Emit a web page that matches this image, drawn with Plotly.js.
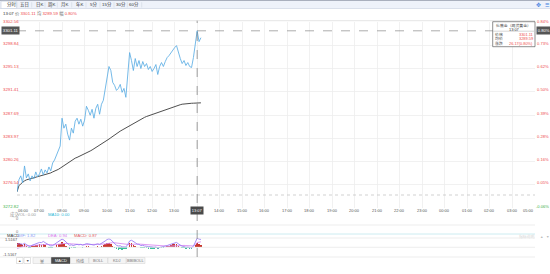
<!DOCTYPE html>
<html><head><meta charset="utf-8">
<script src="https://cdn.plot.ly/plotly-3.0.1.min.js"></script>
<style>html,body{margin:0;padding:0;background:#fff;}#chart{width:550px;height:274px;}</style>
</head><body><div id="chart"></div>
<script>
// ---------------- data ----------------
const tabNames = ["分时","五日","日K","周K","月K","年K","5分","15分","30分","60分"];
const timeLabels = ["06:00","07:00","08:00","09:00","10:00","11:00","12:00","13:00","","14:00","15:00","16:00","17:00","18:00","19:00","20:00","21:00","22:00","23:00","00:00","01:00","02:00","03:00","05:00"];
const pointsPerSlot = 12;
const priceGrid = [3298.84, 3295.13, 3291.41, 3287.69, 3283.97, 3280.26, 3276.54];
const pctGrid = ["0.73%","0.62%","0.50%","0.39%","0.28%","0.16%","0.05%"];
const priceMax = 3302.56, priceMin = 3272.82, prevClose = 3274.94;
const pctMax = "0.84%", pctMin = "-0.06%";
const macdTicks = [1.5167, -1.5167];
const indicatorButtons = ["量","MACD","均线","BOLL","KDJ","BBIBOLL"];
const instrument = "伦敦金（现货黄金）";
const hoverIdx = 96, hoverTime = "13:07";

const price = [3275.45,3277.35,3277.99,3276.88,3279.57,3277.67,3278.30,3277.19,3277.99,3277.51,
3278.62,3277.83,3278.30,3279.09,3278.14,3278.94,3278.46,3279.41,3278.78,3280.05,
3280.52,3281.31,3282.11,3282.74,3287.18,3285.59,3286.23,3284.64,3283.69,3285.59,
3284.80,3286.70,3287.18,3286.23,3287.02,3285.91,3286.86,3289.08,3288.44,3287.65,
3288.60,3287.18,3288.76,3289.40,3287.81,3289.40,3290.03,3291.93,3293.99,3295.42,
3294.78,3292.88,3292.41,3291.61,3291.93,3292.57,3291.30,3291.93,3290.51,3294.47,
3297.64,3296.37,3294.78,3296.69,3295.42,3296.37,3295.10,3296.21,3295.42,3295.89,
3294.94,3295.42,3294.63,3295.10,3295.73,3294.15,3295.42,3296.05,3295.42,3296.21,
3296.84,3297.16,3297.64,3298.11,3298.43,3298.75,3297.48,3296.69,3295.89,3296.37,
3295.58,3296.05,3295.42,3295.26,3296.84,3299.22,3301.11,3299.38,3300.01];

const avgPrice = [3275.45,3276.40,3276.72,3277.03,3277.19,3277.35,3277.43,3277.51,3277.67,3277.75,
3277.83,3277.91,3277.99,3278.03,3278.10,3278.14,3278.25,3278.37,3278.46,3278.62,
3278.73,3278.87,3279.02,3279.21,3279.41,3279.73,3279.89,3280.08,3280.27,3280.46,
3280.65,3280.81,3280.93,3281.06,3281.19,3281.31,3281.44,3281.60,3281.77,3281.95,
3282.12,3282.30,3282.47,3282.64,3282.83,3283.02,3283.22,3283.41,3283.63,3283.85,
3284.07,3284.31,3284.53,3284.74,3284.93,3285.12,3285.29,3285.47,3285.62,3285.78,
3286.00,3286.19,3286.37,3286.54,3286.72,3286.89,3287.05,3287.19,3287.32,3287.45,
3287.56,3287.67,3287.78,3287.89,3288.00,3288.11,3288.22,3288.33,3288.44,3288.56,
3288.67,3288.76,3288.87,3288.97,3289.06,3289.16,3289.25,3289.33,3289.41,3289.46,
3289.50,3289.53,3289.55,3289.56,3289.57,3289.58,3289.59,3289.61,3289.63];

const dif = [0.50,0.70,0.65,0.55,0.75,0.50,0.15,0.00,0.35,0.50,
0.65,0.80,0.95,0.90,1.15,0.90,0.65,0.35,0.22,0.30,
0.55,0.80,1.05,1.25,1.65,1.45,1.05,0.65,0.35,0.45,
0.30,0.45,0.55,0.45,0.55,0.38,0.50,0.70,0.65,0.55,
0.60,0.40,0.55,0.65,0.52,0.72,0.95,1.25,1.55,1.70,
1.50,1.10,0.70,0.35,0.20,0.25,0.05,0.05,0.00,0.50,
1.25,1.40,1.05,0.90,0.60,0.55,0.30,0.35,0.20,0.22,
0.10,0.08,-0.05,-0.05,0.00,-0.20,-0.10,0.00,-0.05,0.10,
0.30,0.45,0.60,0.75,0.85,0.95,0.65,0.40,0.15,0.10,
-0.05,-0.02,-0.10,-0.15,0.15,1.00,1.82,1.65,1.56];

const dea = [-0.30,-0.15,0.00,0.10,0.18,0.24,0.26,0.24,0.22,0.23,
0.26,0.30,0.36,0.42,0.48,0.53,0.55,0.53,0.50,0.47,
0.46,0.48,0.52,0.58,0.66,0.73,0.76,0.75,0.70,0.65,
0.60,0.56,0.54,0.52,0.51,0.49,0.48,0.49,0.50,0.50,
0.50,0.49,0.49,0.50,0.50,0.52,0.56,0.62,0.70,0.80,
0.87,0.90,0.88,0.82,0.75,0.68,0.60,0.53,0.47,0.45,
0.49,0.55,0.59,0.62,0.62,0.61,0.58,0.55,0.51,0.48,
0.44,0.40,0.35,0.31,0.27,0.22,0.19,0.16,0.14,0.13,
0.14,0.16,0.19,0.23,0.27,0.32,0.35,0.36,0.35,0.33,
0.30,0.27,0.24,0.21,0.21,0.50,0.94,1.00,1.08];

const macd = [0.80,0.85,0.65,0.45,0.57,0.26,-0.11,-0.24,0.13,0.27,
0.39,0.50,0.59,0.48,0.67,0.37,0.10,-0.18,-0.28,-0.17,
0.09,0.32,0.53,0.67,0.99,0.72,0.29,-0.10,-0.35,-0.20,
-0.30,-0.11,0.01,-0.07,0.04,-0.11,0.02,0.21,0.15,0.05,
0.10,-0.09,0.06,0.15,0.02,0.20,0.39,0.63,0.85,0.90,
0.63,0.20,-0.18,-0.47,-0.55,-0.43,-0.55,-0.48,-0.47,0.05,
0.76,0.85,0.46,0.28,-0.02,-0.06,-0.28,-0.20,-0.31,-0.26,
-0.34,-0.32,-0.40,-0.36,-0.27,-0.42,-0.29,-0.16,-0.19,-0.03,
0.16,0.29,0.41,0.52,0.58,0.63,0.30,0.04,-0.20,-0.23,
-0.35,-0.29,-0.34,-0.36,-0.06,0.50,0.87,0.65,0.48];

// ---------------- layout helpers ----------------
const W = 550, H = 274, X0 = 17, X1 = 535;
const px = v => v / W, py = v => 1 - v / H;
const FONT = "Liberation Sans, Noto Sans CJK SC, sans-serif";
const RED = "#ee4b4b", GREEN = "#3db24a";
const idx = price.map((_, i) => i);
const xMax = (timeLabels.length - 1) * pointsPerSlot;
const f = (size, color) => ({size: size, color: color, family: FONT});
function txt(x, y, text, o) {
  return Object.assign({xref: 'paper', yref: 'paper', x: px(x), y: py(y), text: text, showarrow: false,
    xanchor: 'left', yanchor: 'middle', font: f(4.3, '#555'), borderpad: 0}, o || {});
}
function hline(y, x0, x1, color, o) {
  return Object.assign({type: 'line', xref: 'paper', yref: 'paper', x0: px(x0), x1: px(x1), y0: py(y), y1: py(y),
    line: {color: color, width: 0.8}}, o || {});
}
function rect(x0, y0, x1, y1, fill, lc) {
  return {type: 'rect', xref: 'paper', yref: 'paper', x0: px(x0), x1: px(x1), y0: py(y1), y1: py(y0),
    fillcolor: fill, line: {color: lc || 'rgba(0,0,0,0)', width: lc ? 0.6 : 0}, layer: 'above'};
}

const hp = price[hoverIdx], ha = avgPrice[hoverIdx];
const chg = hp - prevClose, chgPct = (chg / prevClose * 100).toFixed(2) + "%";

// ---------------- traces ----------------
const traces = [
  {x: idx, y: avgPrice, type: 'scatter', mode: 'lines', line: {color: '#3a3a3a', width: 0.9}, hoverinfo: 'skip', xaxis: 'x', yaxis: 'y'},
  {x: idx, y: price, type: 'scatter', mode: 'lines', line: {color: '#5cade4', width: 0.85}, hoverinfo: 'skip', xaxis: 'x', yaxis: 'y'},
  {x: idx, y: macd, type: 'bar', width: 0.8, marker: {color: macd.map(v => v >= 0 ? '#c8382e' : '#3cbf9c'), line: {width: 0}}, hoverinfo: 'skip', xaxis: 'x3', yaxis: 'y3'},
  {x: idx, y: dea, type: 'scatter', mode: 'lines', line: {color: '#d98cf0', width: 0.9}, hoverinfo: 'skip', xaxis: 'x3', yaxis: 'y3'},
  {x: idx, y: dif, type: 'scatter', mode: 'lines', line: {color: '#9a7df5', width: 0.9}, hoverinfo: 'skip', xaxis: 'x3', yaxis: 'y3'}
];

// ---------------- shapes ----------------
const shapes = [];
shapes.push(rect(0, 0, 550, 8.5, '#eef2fa'));
shapes.push(hline(0.5, 0, 550, '#a9afbd', {line: {color: '#a9afbd', width: 1}}));
shapes.push(hline(8.5, 0, 550, '#d3d9e6'));
const tabEdges = [1, 16.7, 31.7, 45, 57.3, 71.7, 86, 100, 114, 127.3, 141.7];
shapes.push(rect(tabEdges[0], 1.2, tabEdges[1], 8.5, '#ffffff', '#c6cfdf'));
tabEdges.slice(1).forEach(e => shapes.push({type: 'line', xref: 'paper', yref: 'paper', x0: px(e), x1: px(e), y0: py(2.2), y1: py(7.5), line: {color: '#d0d6e2', width: 0.6}}));
shapes.push(hline(20.7, X0, X1, '#dddddd'));
shapes.push({type: 'line', xref: 'paper', yref: 'y', x0: px(X0), x1: px(X1), y0: prevClose, y1: prevClose, line: {color: '#bdbdbd', width: 0.7, dash: 'dot'}});
shapes.push({type: 'line', xref: 'paper', yref: 'y', x0: px(X0), x1: px(X1), y0: hp, y1: hp, line: {color: '#8a8a8a', width: 0.7, dash: 'dash'}});
shapes.push(hline(225, 0, X1, '#e8e8e8'));
shapes.push(hline(234, 0, X1, '#bfe7ee'));
shapes.push(hline(238, 0, X1, '#e8e8e8'));
shapes.push(hline(247.3, 0, X1, '#e8e8e8'));
shapes.push(hline(257, 0, X1, '#e8e8e8'));
shapes.push({type: 'line', xref: 'x', yref: 'paper', x0: hoverIdx, x1: hoverIdx, y0: py(257), y1: py(20.7), line: {color: '#777', width: 0.7, dash: 'dash'}});
shapes.push(rect(492.7, 21.7, 535, 46.7, '#ffffff', '#444'));
shapes.push(Object.assign(hline(31.2, 493, 534.7, '#cccccc'), {layer: 'above'}));
shapes.push(rect(16.5, 257.5, 23, 263.5, '#ffffff', '#cfcfcf'));
shapes.push(rect(24, 257.5, 30.5, 263.5, '#ffffff', '#cfcfcf'));
const btnEdges = [33, 51.5, 70.5, 89, 108, 126.5, 145.5];
indicatorButtons.forEach((b, i) => shapes.push(rect(btnEdges[i], 257.5, btnEdges[i + 1] - 0.5, 263.5, i === 1 ? '#4a4a4a' : '#f4f4f4', i === 1 ? '#4a4a4a' : '#d8d8d8')));

// ---------------- annotations ----------------
const ann = [];
const tabCenters = [11.7, 24, 39.3, 51, 64.3, 79, 93.3, 107.3, 120.5, 134.3];
tabNames.forEach((t, i) => ann.push(txt(tabCenters[i], 4.9, t, {xanchor: 'center', font: f(4.4, '#333')})));
ann.push(txt(538.5, 4.7, '✥', {xanchor: 'center', font: f(5.5, '#3c7de0')}));
ann.push(txt(547, 4.7, '☰', {xanchor: 'center', font: f(5, '#3c7de0')}));
ann.push(txt(1.5, 13.8,
  '<span style="color:#333">' + hoverTime + '</span> <span style="color:#777">价</span> <span style="color:' + RED + '">' + hp.toFixed(2) +
  '</span> <span style="color:#777">均</span> <span style="color:' + RED + '">' + ha.toFixed(2) +
  '</span> <span style="color:#777">幅</span> <span style="color:' + RED + '">' + chgPct + '</span>', {font: f(4.3, '#333')}));
ann.push(txt(2, 0, priceMax.toFixed(2), {yref: 'y', y: priceMax, font: f(4.3, RED)}));
priceGrid.forEach(v => ann.push(txt(2, 0, v.toFixed(2), {yref: 'y', y: v, yshift: 2, font: f(4.3, v >= prevClose ? RED : GREEN)})));
ann.push(txt(2, 0, priceMin.toFixed(2), {yref: 'y', y: priceMin, yshift: 2, font: f(4.3, GREEN)}));
ann.push(txt(536.3, 0, pctMax, {yref: 'y', y: priceMax, font: f(4.1, RED)}));
pctGrid.forEach((p, i) => ann.push(txt(536.3, 0, p, {yref: 'y', y: priceGrid[i], yshift: 2, font: f(4.1, RED)})));
ann.push(txt(549.6, 0, pctMin, {yref: 'y', y: priceMin, yshift: 2, xanchor: 'right', font: f(4.1, GREEN)}));
ann.push(txt(0.5, 0, hp.toFixed(2), {yref: 'y', y: hp, bgcolor: '#555', borderpad: 0.8, font: f(4.3, '#fff')}));
ann.push(txt(536.3, 0, chgPct, {yref: 'y', y: hp, bgcolor: '#555', borderpad: 0.8, font: f(4.1, '#fff')}));
timeLabels.forEach((t, i) => {
  if (!t) return;
  ann.push(txt(0, 210.3, t, {xref: 'x', x: i * pointsPerSlot, xanchor: i === 0 ? 'left' : (i === timeLabels.length - 1 ? 'right' : 'center'), font: f(4, '#555')}));
});
ann.push(txt(0, 210.3, hoverTime, {xref: 'x', x: hoverIdx, xanchor: 'center', bgcolor: '#4a4a4a', borderpad: 0.8, font: f(4, '#fff')}));
ann.push(txt(513.8, 25, instrument, {xanchor: 'center', font: f(3.9, '#333')}));
ann.push(txt(513.8, 29.2, hoverTime, {xanchor: 'center', font: f(3.9, '#333')}));
const ttRows = [["价格", hp.toFixed(2)], ["均价", ha.toFixed(2)], ["涨跌", chg.toFixed(2) + "(" + chgPct + ")"]];
ttRows.forEach((r, i) => {
  ann.push(txt(494, 34.3 + i * 4.6, r[0], {font: f(3.9, '#444')}));
  ann.push(txt(534.3, 34.3 + i * 4.6, r[1], {xanchor: 'right', font: f(3.9, RED)}));
});
ann.push(txt(9, 214.6, '成交', {font: f(4.2, '#999')}));
ann.push(txt(16, 214.6, 'VOL: 0.00', {font: f(4.2, '#999')}));
ann.push(txt(47, 214.6, 'MA10: 0.00', {font: f(4.2, '#27b7d6')}));
ann.push(txt(15, 218.2, '0', {font: f(4, '#777')}));
ann.push(txt(15, 231.6, '0', {font: f(4, '#777')}));
ann.push(txt(6, 236, 'MACD', {font: f(4.2, '#333')}));
ann.push(txt(17.5, 236, 'DIF: ' + dif[hoverIdx].toFixed(2), {font: f(4.2, '#8898f4')}));
ann.push(txt(47, 236, 'DEA: ' + dea[hoverIdx].toFixed(2), {font: f(4.2, '#d677ea')}));
ann.push(txt(73, 236, 'MACD: ' + macd[hoverIdx].toFixed(2), {font: f(4.2, '#e2585d')}));
ann.push(txt(3.5, 239.9, macdTicks[0].toFixed(4), {font: f(4, '#555')}));
ann.push(txt(1.5, 254, macdTicks[1].toFixed(4), {font: f(4, '#555')}));
ann.push(txt(526, 236.7, '指标说明', {xanchor: 'center', font: f(3.8, '#d6d6d6')}));
ann.push(txt(541, 236.7, '▲', {xanchor: 'center', font: f(3.5, '#bbb')}));
ann.push(txt(547, 236.7, '▼', {xanchor: 'center', font: f(3.5, '#bbb')}));
ann.push(txt(19.75, 260.5, '▲', {xanchor: 'center', font: f(3.5, '#555')}));
ann.push(txt(27.25, 260.5, '▼', {xanchor: 'center', font: f(3.5, '#555')}));
indicatorButtons.forEach((b, i) => ann.push(txt((btnEdges[i] + btnEdges[i + 1] - 0.5) / 2, 260.5, b, {xanchor: 'center', font: f(4, i === 1 ? '#fff' : '#777')})));

const tickSlots = timeLabels.map((_, i) => i * pointsPerSlot).slice(1, -1);
const layout = {
  width: W, height: H, margin: {l: 0, r: 0, t: 0, b: 0}, paper_bgcolor: '#fff', plot_bgcolor: 'rgba(0,0,0,0)',
  showlegend: false, bargap: 0,
  xaxis: {domain: [px(X0), px(X1)], range: [0, xMax], tickvals: tickSlots, showticklabels: false, ticks: '', showgrid: true, gridcolor: '#eeeeee', gridwidth: 0.8, zeroline: false, showline: false, anchor: 'y', fixedrange: true},
  yaxis: {domain: [py(208.3), py(21.7)], range: [priceMin, priceMax], tickvals: priceGrid, showticklabels: false, ticks: '', showgrid: true, gridcolor: '#eeeeee', gridwidth: 0.8, zeroline: false, showline: false, anchor: 'x', fixedrange: true},
  xaxis3: {domain: [px(X0), px(X1)], range: [0, xMax], visible: false, anchor: 'y3', fixedrange: true},
  yaxis3: {domain: [py(257), py(238)], range: [-2.08, 1.87], visible: false, anchor: 'x3', fixedrange: true},
  shapes: shapes, annotations: ann
};
Plotly.newPlot('chart', traces, layout, {staticPlot: true, displayModeBar: false});
</script>
</body></html>
